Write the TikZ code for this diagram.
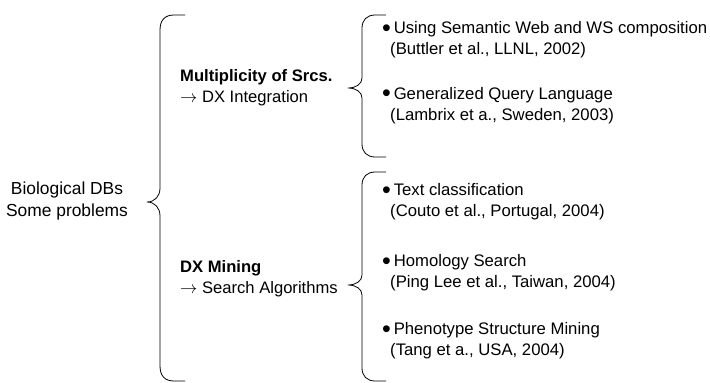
\documentclass[tikz,border=0pt]{standalone}
\usepackage{fontspec}
\setmainfont{Liberation Sans}
\usepackage{tikz}
\usetikzlibrary{positioning}

\newcommand{\bigdot}{\raisebox{-2.6pt}{\scalebox{1.5}{\textbullet}}}

\begin{document}
\begin{tikzpicture}[
    x=1pt, y=-1pt,
    topic/.style={inner sep=0pt, align=center, font=\fontsize{17.4}{22}\selectfont},
    branch/.style={inner sep=0pt, anchor=west, align=left, font=\fontsize{16.6}{21}\selectfont},
    item/.style={inner sep=0pt, anchor=west, align=left, font=\fontsize{16.7}{21}\selectfont},
    bracket/.style={line width=0.8pt, line join=round},
]
    \useasboundingbox (0,0) rectangle (710,383);

    % left hand side
    \node[topic] (root) at (67,201) {Biological DBs\\Some problems};

    \draw[bracket] (185,15) -- (174,15) .. controls (165,15) and (160,20) .. (160,30)
        -- (160,188) .. controls (160,196) and (155,202) .. (147,202)
        .. controls (155,202) and (160,208) .. (160,216)
        -- (160,366) .. controls (160,376) and (165,381) .. (174,381) -- (185,381);

    % the two problems
    \node[branch] (multi) at (180,88) {\textbf{Multiplicity of Srcs.}\\$\rightarrow$ DX Integration};
    \node[branch] (mining) at (180,279) {\textbf{DX Mining}\\$\rightarrow$ Search Algorithms};

    \draw[bracket] (386,15) -- (375,15) .. controls (367,15) and (362,20) .. (362,28)
        -- (362,78) .. controls (362,84) and (356,88) .. (348,88)
        .. controls (356,88) and (362,92) .. (362,98)
        -- (362,144) .. controls (362,152) and (367,157) .. (375,157) -- (386,157);

    \draw[bracket] (386,172) -- (375,172) .. controls (367,172) and (362,177) .. (362,185)
        -- (362,275) .. controls (362,281) and (356,285) .. (348,285)
        .. controls (356,285) and (362,289) .. (362,295)
        -- (362,368) .. controls (362,376) and (367,381) .. (375,381) -- (386,381);

    % works
    \node[item] (semweb) at (382,40) {\bigdot\,Using Semantic Web and WS composition\\\hspace{8pt}(Buttler et al., LLNL, 2002)};
    \node[item] (query) at (382,105.5) {\bigdot\,Generalized Query Language\\\hspace{8pt}(Lambrix et a., Sweden, 2003)};
    \node[item] (textcl) at (382,202) {\bigdot\,Text classification\\\hspace{8pt}(Couto et al., Portugal, 2004)};
    \node[item] (homol) at (382,273) {\bigdot\,Homology Search\\\hspace{8pt}(Ping Lee et al., Taiwan, 2004)};
    \node[item] (pheno) at (382,341) {\bigdot\,Phenotype Structure Mining\\\hspace{8pt}(Tang et a., USA, 2004)};
\end{tikzpicture}
\end{document}
